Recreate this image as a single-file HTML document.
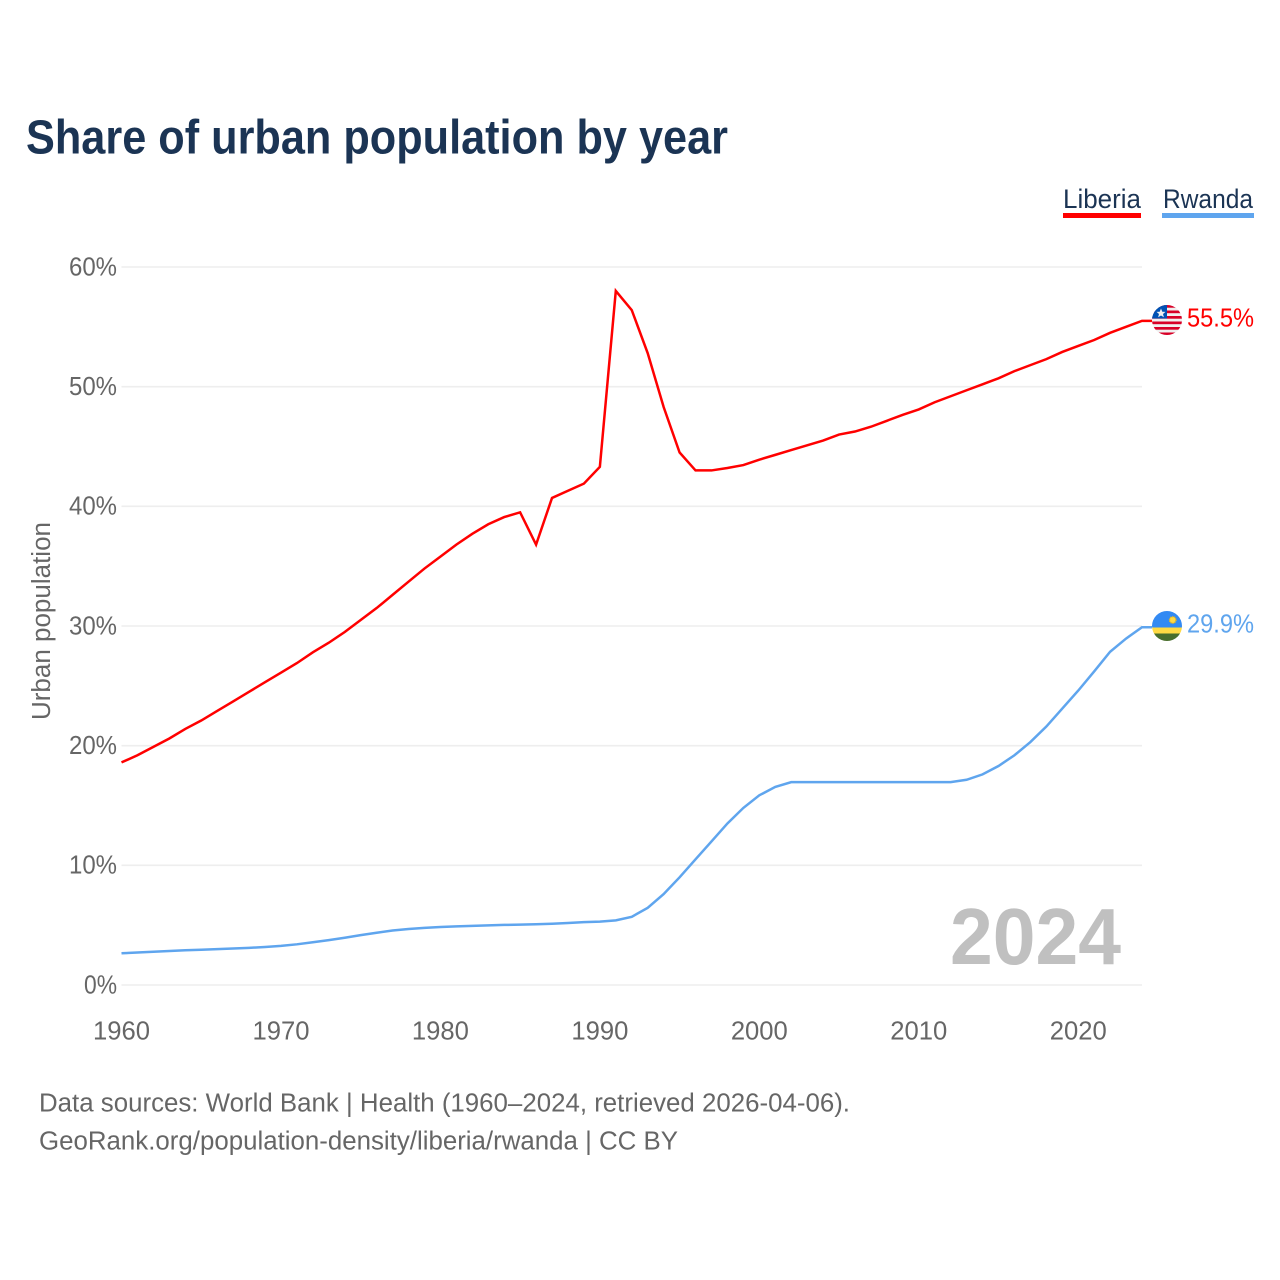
<!DOCTYPE html>
<html lang="en">
<head>
<meta charset="utf-8">
<title>Share of urban population by year</title>
<style>
  html, body { margin: 0; padding: 0; background: #fff; }
  svg { display: block; font-family: "Liberation Sans", sans-serif; }
</style>
</head>
<body>
<svg id="chart" width="1280" height="1280" viewBox="0 0 1280 1280" xmlns="http://www.w3.org/2000/svg">
  <defs>
    <clipPath id="liberia-clip"><circle cx="1167" cy="320" r="15"/></clipPath>
    <clipPath id="rwanda-clip"><circle cx="1167" cy="626" r="15"/></clipPath>
  </defs>
  <rect width="1280" height="1280" fill="#fff"/>
  <text x="26" y="153.5" font-size="48" font-weight="700" fill="#1b3454" textLength="702" lengthAdjust="spacingAndGlyphs">Share of urban population by year</text>

  <g>
    <text x="1063" y="208" font-size="27" fill="#1b3454" textLength="78" lengthAdjust="spacingAndGlyphs">Liberia</text>
    <rect x="1063" y="213" width="78" height="5" fill="#ff0000"/>
  </g>
  <g>
    <text x="1163" y="208" font-size="27" fill="#1b3454" textLength="90" lengthAdjust="spacingAndGlyphs">Rwanda</text>
    <rect x="1162" y="213" width="92" height="5" fill="#5fa5ee"/>
  </g>

  <g id="grid"></g>
  <g id="y-ticks"></g>
  <g id="x-ticks"></g>
  <text transform="translate(50,621) rotate(-90)" text-anchor="middle" font-size="25.5" fill="#666" textLength="198" lengthAdjust="spacingAndGlyphs">Urban population</text>

  <text x="1121" y="964" text-anchor="end" font-size="80" font-weight="700" fill="#c0c0c0" textLength="171" lengthAdjust="spacingAndGlyphs">2024</text>

  <g id="series"></g>

  <g clip-path="url(#liberia-clip)">
    <rect x="1152" y="305" width="30" height="30" fill="#f0f0f0"/>
    <rect x="1152" y="305" width="30" height="2.7" fill="#d80027"/>
    <rect x="1152" y="310.5" width="30" height="2.7" fill="#d80027"/>
    <rect x="1152" y="316" width="30" height="2.7" fill="#d80027"/>
    <rect x="1152" y="321.5" width="30" height="2.7" fill="#d80027"/>
    <rect x="1152" y="327" width="30" height="2.7" fill="#d80027"/>
    <rect x="1152" y="332.5" width="30" height="2.7" fill="#d80027"/>
    <rect x="1152" y="305" width="15" height="13.5" fill="#0052b4"/>
    <polygon points="1161,308.5 1162.3,311.7 1165.5,311.9 1163,314 1163.9,317.3 1161,315.5 1158.1,317.3 1159,314 1156.5,311.9 1159.7,311.7" fill="#f0f0f0"/>
  </g>
  <text id="value-liberia" x="1187" y="326.7" font-size="26" fill="#ff0000" textLength="67" lengthAdjust="spacingAndGlyphs"></text>

  <g clip-path="url(#rwanda-clip)">
    <rect x="1152" y="611" width="30" height="16.5" fill="#338af3"/>
    <rect x="1152" y="627.5" width="30" height="6" fill="#ffda44"/>
    <rect x="1152" y="633.5" width="30" height="7.5" fill="#496e2d"/>
    <circle cx="1172.7" cy="620" r="3.2" fill="#ffda44" stroke="#e8b820" stroke-width="1.4" stroke-dasharray="1.2 0.8"/>
  </g>
  <text id="value-rwanda" x="1187" y="632.7" font-size="26" fill="#5fa5ee" textLength="67" lengthAdjust="spacingAndGlyphs"></text>

  <text x="39" y="1111.6" font-size="25.5" fill="#666" textLength="811" lengthAdjust="spacingAndGlyphs">Data sources: World Bank | Health (1960–2024, retrieved 2026-04-06).</text>
  <text x="39" y="1149.4" font-size="25.5" fill="#666" textLength="639" lengthAdjust="spacingAndGlyphs">GeoRank.org/population-density/liberia/rwanda | CC BY</text>
</svg>
<script>
const startYear = 1960;
const liberiaValues = [18.6,19.2,19.9,20.6,21.4,22.1,22.9,23.7,24.5,25.3,26.1,26.9,27.8,28.6,29.5,30.5,31.5,32.6,33.7,34.8,35.8,36.8,37.7,38.5,39.1,39.5,36.8,40.7,41.3,41.9,43.3,58.0,56.4,52.8,48.3,44.5,43.0,43.0,43.2,43.45,43.9,44.3,44.7,45.1,45.5,46.0,46.25,46.65,47.15,47.65,48.1,48.7,49.2,49.7,50.2,50.7,51.3,51.8,52.3,52.9,53.4,53.9,54.5,55.0,55.5];
const rwandaValues = [2.65,2.72,2.78,2.84,2.9,2.95,3.0,3.05,3.1,3.18,3.27,3.4,3.57,3.75,3.95,4.17,4.37,4.55,4.68,4.77,4.85,4.9,4.94,4.98,5.02,5.05,5.08,5.12,5.18,5.25,5.3,5.4,5.7,6.45,7.6,9.0,10.5,12.0,13.5,14.8,15.85,16.55,16.95,16.95,16.95,16.95,16.95,16.95,16.95,16.95,16.95,16.95,16.95,17.15,17.6,18.3,19.2,20.3,21.6,23.1,24.6,26.2,27.85,28.95,29.9];
const yTickValues = [0,10,20,30,40,50,60];
const xTickYears = [1960,1970,1980,1990,2000,2010,2020];
const liberiaLabel = "55.5%";
const rwandaLabel = "29.9%";

const NS = "http://www.w3.org/2000/svg";
function xScale(year) { return 121.5 + (year - 1960) * (1142 - 121.5) / 64; }
function yScale(v) { return 985 - v * (985 - 267) / 60; }

const gridGroup = document.getElementById("grid");
const yTickGroup = document.getElementById("y-ticks");
const xTickGroup = document.getElementById("x-ticks");
const seriesGroup = document.getElementById("series");

yTickValues.forEach(function (v) {
  const line = document.createElementNS(NS, "line");
  line.setAttribute("x1", xScale(1960));
  line.setAttribute("x2", xScale(2024));
  line.setAttribute("y1", yScale(v));
  line.setAttribute("y2", yScale(v));
  line.setAttribute("stroke", "#eeeeee");
  line.setAttribute("stroke-width", "1.6");
  
  
  gridGroup.appendChild(line);

  const label = document.createElementNS(NS, "text");
  label.textContent = v + "%";
  label.setAttribute("x", 117);
  label.setAttribute("y", yScale(v) + 8.4);
  label.setAttribute("text-anchor", "end");
  label.setAttribute("font-size", "25.5");
  label.setAttribute("fill", "#666");
  label.setAttribute("textLength", v === 0 ? 33 : 48);
  label.setAttribute("lengthAdjust", "spacingAndGlyphs");
  
  
  yTickGroup.appendChild(label);
});

xTickYears.forEach(function (year) {
  const label = document.createElementNS(NS, "text");
  label.textContent = String(year);
  label.setAttribute("x", xScale(year));
  label.setAttribute("y", 1039.7);
  label.setAttribute("text-anchor", "middle");
  label.setAttribute("font-size", "25.5");
  label.setAttribute("fill", "#666");
  label.setAttribute("textLength", 57);
  label.setAttribute("lengthAdjust", "spacingAndGlyphs");
  
  
  xTickGroup.appendChild(label);
});

function linePoints(values) {
  const pts = values.map(function (v, i) {
    return xScale(startYear + i).toFixed(2) + "," + yScale(v).toFixed(2);
  });
  pts.push("1152," + yScale(values[values.length - 1]).toFixed(2));
  return pts.join(" ");
}

const rwandaLine = document.createElementNS(NS, "polyline");
rwandaLine.setAttribute("points", linePoints(rwandaValues));
rwandaLine.setAttribute("fill", "none");
rwandaLine.setAttribute("stroke", "#5fa5ee");
rwandaLine.setAttribute("stroke-width", "2.5");


seriesGroup.appendChild(rwandaLine);

const liberiaLine = document.createElementNS(NS, "polyline");
liberiaLine.setAttribute("points", linePoints(liberiaValues));
liberiaLine.setAttribute("fill", "none");
liberiaLine.setAttribute("stroke", "#ff0000");
liberiaLine.setAttribute("stroke-width", "2.5");


seriesGroup.appendChild(liberiaLine);

document.getElementById("value-liberia").textContent = liberiaLabel;
document.getElementById("value-rwanda").textContent = rwandaLabel;
</script>
</body>
</html>
